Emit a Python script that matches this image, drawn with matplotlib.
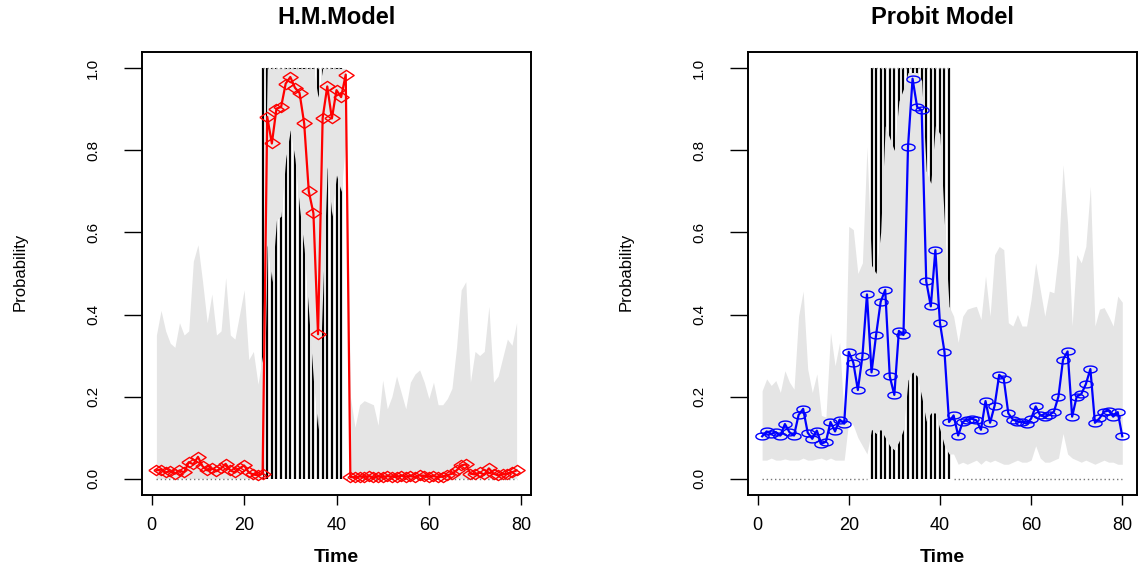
import numpy as np
import matplotlib
matplotlib.use("Agg")
import matplotlib.pyplot as plt

plt.rcParams["font.family"] = ["Liberation Sans", "DejaVu Sans"]

# --------------------------------
# Data
# --------------------------------

t_hm = np.arange(1, 80)
t_pr = np.arange(1, 81)

rec_hm = np.arange(24, 42)   # recession periods, left panel
rec_pr = np.arange(25, 43)   # recession periods, right panel

hm_prob = (
    [0.02, 0.022, 0.015, 0.018, 0.012, 0.02, 0.015, 0.04, 0.035, 0.053,
     0.03, 0.02, 0.025, 0.018, 0.025, 0.036, 0.02, 0.015, 0.025, 0.032,
     0.015, 0.01, 0.008, 0.012]
    + [0.882, 0.817, 0.902, 0.906, 0.963, 0.979, 0.953, 0.94, 0.866, 0.70,
       0.647, 0.352, 0.879, 0.956, 0.878, 0.947, 0.93, 0.985]
    + [0.004, 0.003, 0.005, 0.004, 0.006, 0.003, 0.005, 0.004, 0.006, 0.005,
       0.004, 0.007, 0.005, 0.006, 0.004, 0.008, 0.007, 0.005, 0.006, 0.004,
       0.005, 0.008, 0.012, 0.02, 0.032, 0.035, 0.012, 0.01, 0.015, 0.01,
       0.025, 0.012, 0.008, 0.01, 0.012, 0.015, 0.02]
)

hm_upper = (
    [0.35, 0.41, 0.36, 0.33, 0.32, 0.38, 0.35, 0.36, 0.53, 0.57,
     0.48, 0.38, 0.45, 0.35, 0.36, 0.49, 0.35, 0.34, 0.40, 0.46,
     0.29, 0.31, 0.23, 0.30]
    + [1.0] * 11 + [0.93] + [1.0] * 6
    + [0.20, 0.125, 0.18, 0.19, 0.185, 0.18, 0.13, 0.24, 0.17, 0.20,
       0.25, 0.21, 0.17, 0.235, 0.255, 0.265, 0.235, 0.195, 0.235, 0.18,
       0.18, 0.195, 0.22, 0.32, 0.46, 0.48, 0.235, 0.31, 0.30, 0.31,
       0.42, 0.235, 0.25, 0.295, 0.34, 0.325, 0.38]
)

hm_lower = (
    [0.0] * 24
    + [0.57, 0.48, 0.63, 0.64, 0.78, 0.85, 0.78, 0.66, 0.56, 0.40,
       0.24, 0.12, 0.45, 0.76, 0.64, 0.74, 0.70, 0.82]
    + [0.0] * 37
)

pr_prob = [
    0.103, 0.115, 0.109, 0.113, 0.105, 0.133, 0.113, 0.105, 0.155, 0.17,
    0.112, 0.097, 0.117, 0.085, 0.09, 0.138, 0.115, 0.144, 0.134, 0.309,
    0.283, 0.216, 0.298, 0.449, 0.259, 0.35, 0.431, 0.46, 0.249, 0.204,
    0.36, 0.35, 0.809, 0.975, 0.906, 0.898, 0.481, 0.42, 0.557, 0.38,
    0.309, 0.138, 0.154, 0.105, 0.138, 0.144, 0.146, 0.142, 0.119, 0.189,
    0.136, 0.178, 0.253, 0.243, 0.159, 0.144, 0.139, 0.138, 0.134, 0.146,
    0.176, 0.154, 0.151, 0.155, 0.163, 0.2, 0.29, 0.31, 0.151, 0.2,
    0.206, 0.23, 0.267, 0.136, 0.147, 0.163, 0.166, 0.151, 0.162, 0.103,
]

pr_upper = (
    [0.214, 0.243, 0.227, 0.239, 0.21, 0.263, 0.235, 0.218, 0.396, 0.457,
     0.267, 0.21, 0.255, 0.154, 0.15, 0.356, 0.275, 0.332, 0.146, 0.615,
     0.607, 0.5, 0.526, 0.809]
    + [0.52, 0.50, 0.60, 0.86, 0.83, 0.80, 0.92, 0.95, 0.99, 0.99,
       0.99, 0.97, 0.75, 0.72, 0.86, 0.84, 0.62, 0.42]
    + [0.396, 0.332, 0.396, 0.413, 0.417, 0.42, 0.388, 0.494, 0.396, 0.546,
       0.566, 0.558, 0.38, 0.372, 0.40, 0.372, 0.372, 0.437, 0.526, 0.461,
       0.396, 0.457, 0.453, 0.55, 0.765, 0.623, 0.372, 0.546, 0.526, 0.566,
       0.712, 0.372, 0.413, 0.417, 0.396, 0.372, 0.445, 0.43]
)

pr_lower = (
    [0.045, 0.045, 0.05, 0.045, 0.045, 0.048, 0.045, 0.045, 0.045, 0.05,
     0.045, 0.045, 0.048, 0.05, 0.045, 0.05, 0.045, 0.045, 0.045]
    + [0.14, 0.13, 0.10, 0.08, 0.06]
    + [0.12, 0.11, 0.12, 0.10, 0.08, 0.07, 0.09, 0.12, 0.24, 0.26,
       0.25, 0.20, 0.14, 0.16, 0.16, 0.12, 0.08, 0.06]
    + [0.06, 0.035, 0.04, 0.035, 0.04, 0.045, 0.035, 0.045, 0.04, 0.045,
       0.04, 0.035, 0.035, 0.04, 0.045, 0.04, 0.04, 0.045, 0.08, 0.05,
       0.04, 0.04, 0.045, 0.05, 0.11, 0.06, 0.05, 0.045, 0.04, 0.045,
       0.04, 0.035, 0.04, 0.045, 0.04, 0.04, 0.035, 0.035]
)

x_ticks = [0, 20, 40, 60, 80]
y_ticks = [0.0, 0.2, 0.4, 0.6, 0.8, 1.0]

# wide marker shapes (the reference image is stretched sideways)
diamond = [(-1.5, 0), (0, 1), (1.5, 0), (0, -1), (-1.5, 0)]
ang = np.linspace(0, 2 * np.pi, 41)
ellipse = list(zip(np.cos(ang), 0.52 * np.sin(ang)))

W, H = 1141, 570
fig = plt.figure(figsize=(W / 100, H / 100), dpi=100)


def panel(left_px, xlim, t, prob, lower, upper, rec, color, marker, ms, title, ylab_x):
    ax = fig.add_axes([left_px / W, 1 - 495 / H, 389 / W, 443 / H])
    t = np.asarray(t)
    ind = np.isin(t, rec)

    ax.vlines(rec, 0, 1, color="black", lw=1.6, zorder=1)
    ax.fill_between(t, lower, upper, color="#e5e5e5", lw=0, zorder=2)
    ax.plot(t, np.where(ind, np.nan, 0.0), ls=(0, (1, 2)), color="#777777", lw=1, zorder=3)
    ax.plot(t, np.where(ind, 1.0, np.nan), ls=(0, (1, 2)), color="#999999", lw=1, zorder=3)
    ax.plot(t, prob, color=color, lw=1.6, marker=marker, ms=ms,
            mfc="none", mec=color, mew=1.0, zorder=4)

    ax.set_xlim(*xlim)
    ax.set_ylim(-0.04, 1.04)
    ax.set_xticks(x_ticks)
    ax.set_xticklabels([str(v) for v in x_ticks], fontsize=13)
    ax.set_yticks(y_ticks)
    ax.set_yticklabels(["%.1f" % v for v in y_ticks], fontsize=11, rotation=90, va="center")
    ax.tick_params(axis="x", length=7, width=1, pad=9, direction="out")
    ax.tick_params(axis="y", length=13, width=1, pad=17, direction="out")
    for s in ax.spines.values():
        s.set_linewidth(1.4)

    cx = (left_px + 389 / 2) / W
    fig.text(cx, 1 - 17 / H, title, ha="center", va="center", fontsize=17, fontweight="bold")
    fig.text(cx, 1 - 557 / H, "Time", ha="center", va="center", fontsize=14, fontweight="bold")
    fig.text(ylab_x / W, 1 - 272 / H, "Probability", ha="center", va="center",
             rotation=90, fontsize=12)
    return ax


panel(142, (-2.12, 82.12), t_hm, hm_prob, hm_lower, hm_upper, rec_hm,
      "#ff0000", diamond, 11, "H.M.Model", 20)
panel(747.7, (-2.16, 83.16), t_pr, pr_prob, pr_lower, pr_upper, rec_pr,
      "#0000ff", ellipse, 9.5, "Probit Model", 626)

fig.savefig("out.png", dpi=100)
